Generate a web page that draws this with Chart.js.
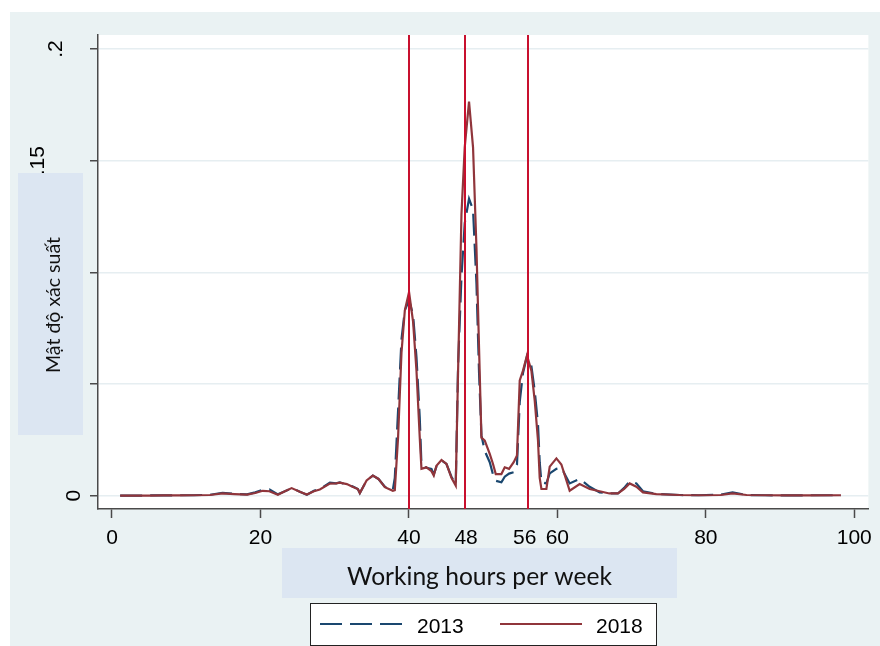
<!DOCTYPE html>
<html>
<head>
<meta charset="utf-8">
<script src="https://cdn.jsdelivr.net/npm/chart.js@4.4.1/dist/chart.umd.min.js"></script>
<style>
html,body{margin:0;padding:0;background:#ffffff;}
#wrap{width:880px;height:646px;position:relative;}
canvas{display:block;}
</style>
</head>
<body>
<div id="wrap"><canvas id="c" width="880" height="646"></canvas></div>
<script>
// ---- data ----
const hours = [1.1,3,5,7,9,11,13.2,14.9,16.5,18.2,19.3,20.3,21.2,22.35,23.3,24.2,25.3,26.25,27.2,28.0,29.35,30.2,30.7,31.64,32.4,33.12,33.39,34.3,35.14,35.9,36.76,37.83,38.1,38.54,39.0,39.45,40.02,40.56,41.02,41.46,41.69,42.37,43.04,43.35,43.71,44.39,45.06,45.73,46.31,46.62,47.08,47.52,48.1,48.64,49.1,49.45,49.77,50.22,50.89,51.33,51.7,52.46,52.91,53.49,54.12,54.56,54.93,55.37,55.91,56.5,56.95,57.39,57.62,57.85,58.52,58.97,59.87,60.54,61.66,63.0,64.35,65.7,67.0,68.16,69.0,69.74,70.64,71.53,73.33,76.47,79,82,83.6,85.5,88,91,94,98.2];
const density2013 = [0.0000,0.0000,0.0001,0.0001,0.0002,0.0002,0.0004,0.0013,0.0008,0.0006,0.0015,0.0026,0.0028,0.0006,0.0020,0.0034,0.0018,0.0004,0.0022,0.0030,0.0058,0.0055,0.0060,0.0048,0.0042,0.0030,0.0012,0.0068,0.0090,0.0075,0.0040,0.0025,0.0080,0.0380,0.0700,0.0830,0.0876,0.0810,0.0620,0.0350,0.0140,0.0125,0.0120,0.0095,0.0130,0.0158,0.0142,0.0085,0.0050,0.0580,0.0980,0.1220,0.1330,0.1280,0.0950,0.0550,0.0270,0.0200,0.0150,0.0095,0.0067,0.0060,0.0085,0.0099,0.0105,0.0140,0.0420,0.0550,0.0625,0.0580,0.0470,0.0320,0.0150,0.0060,0.0055,0.0100,0.0120,0.0125,0.0055,0.0075,0.0040,0.0015,0.0010,0.0010,0.0035,0.0065,0.0055,0.0020,0.0008,0.0003,0.0002,0.0005,0.0015,0.0003,0.0002,0.0001,0.0002,0.0002];
const density2018 = [0.0000,0.0000,0.0000,0.0001,0.0001,0.0002,0.0003,0.0010,0.0007,0.0005,0.0012,0.0022,0.0020,0.0004,0.0020,0.0034,0.0018,0.0005,0.0020,0.0028,0.0054,0.0055,0.0058,0.0052,0.0040,0.0030,0.0012,0.0068,0.0090,0.0075,0.0038,0.0022,0.0025,0.0260,0.0640,0.0830,0.0912,0.0780,0.0560,0.0260,0.0120,0.0127,0.0110,0.0090,0.0134,0.0160,0.0142,0.0080,0.0045,0.0550,0.1260,0.1560,0.1765,0.1560,0.1110,0.0660,0.0260,0.0247,0.0187,0.0142,0.0097,0.0097,0.0127,0.0120,0.0150,0.0180,0.0516,0.0560,0.0628,0.0560,0.0426,0.0247,0.0080,0.0030,0.0030,0.0130,0.0167,0.0140,0.0022,0.0052,0.0030,0.0020,0.0010,0.0010,0.0030,0.0055,0.0040,0.0015,0.0007,0.0003,0.0002,0.0003,0.0010,0.0003,0.0002,0.0001,0.0001,0.0002];
const seriesNames = ['2013', '2018'];
const xTickValues = [0, 20, 40, 47.7, 55.6, 60, 80, 100];
const xTickLabels = ['0', '20', '40', '48', '56', '60', '80', '100'];
const xTicksWithoutMark = [47.7, 55.6];
const yTickValues = [0, 0.05, 0.1, 0.15, 0.2];
const yTickLabels = ['0', '.05', '.1', '.15', '.2'];
const refLines = [40, 47.5, 56];
const xTitle = 'Working hours per week';
const yTitle = 'Mật độ xác suất';

// ---- styles ----
const COL2013 = '#1A476F', COL2018 = '#90353B', REFCOL = '#C8102E';
const OUTER_BG = '#EAF2F3', BOX_BG = '#DCE6F2', GRID = '#E6EEF1', AXIS = '#4a4a4a';
const TICK_FONT = '21px "Liberation Sans", Arial, sans-serif';
const TITLE_FAMILY = 'Lato, "Open Sans", "Noto Sans", sans-serif';
const yLabelCenterX = [72.5, 38, 46, 36.5, 54.5];

function fitFont(ctx, text, targetWidth, family) {
  ctx.font = '20px ' + family;
  const w = ctx.measureText(text).width;
  const size = 20 * targetWidth / w;
  return size.toFixed(2) + 'px ' + family;
}

const decor = {
  id: 'decor',
  beforeDraw(chart) {
    const {ctx, chartArea: a} = chart;
    ctx.save();
    ctx.fillStyle = '#ffffff';
    ctx.fillRect(0, 0, chart.width, chart.height);
    ctx.fillStyle = OUTER_BG;
    ctx.fillRect(10, 12, chart.width - 10, chart.height - 12);
    ctx.fillStyle = '#ffffff';
    ctx.fillRect(a.left, a.top, a.right - a.left, a.bottom - a.top);
    ctx.restore();
  },
  afterDatasetsDraw(chart) {
    const {ctx, chartArea: a, scales: {x}} = chart;
    ctx.save();
    ctx.strokeStyle = REFCOL;
    ctx.lineWidth = 2;
    refLines.forEach(v => {
      const px = Math.round(x.getPixelForValue(v));
      ctx.beginPath();
      ctx.moveTo(px, a.top);
      ctx.lineTo(px, a.bottom);
      ctx.stroke();
    });
    ctx.restore();
  },
  afterDraw(chart) {
    const {ctx, scales: {y}} = chart;
    ctx.save();
    // rotated y tick labels
    ctx.font = TICK_FONT;
    ctx.fillStyle = '#000';
    ctx.textAlign = 'center';
    ctx.textBaseline = 'alphabetic';
    yTickValues.forEach((v, i) => {
      const py = y.getPixelForValue(v);
      ctx.save();
      ctx.translate(yLabelCenterX[i] + 7.5, py);
      ctx.rotate(-Math.PI / 2);
      ctx.fillText(yTickLabels[i], 0, 0);
      ctx.restore();
    });
    // y title box
    ctx.fillStyle = BOX_BG;
    ctx.fillRect(18, 173, 65, 262);
    ctx.fillStyle = '#111';
    ctx.font = fitFont(ctx, yTitle, 136, TITLE_FAMILY);
    ctx.save();
    ctx.translate(60, 305);
    ctx.rotate(-Math.PI / 2);
    ctx.textAlign = 'center';
    ctx.fillText(yTitle, 0, 0);
    ctx.restore();
    // x title box
    ctx.fillStyle = BOX_BG;
    ctx.fillRect(282, 548, 395, 50);
    ctx.fillStyle = '#111';
    ctx.font = fitFont(ctx, xTitle, 265, TITLE_FAMILY);
    ctx.textAlign = 'center';
    ctx.fillText(xTitle, 479.5, 585);
    // legend
    ctx.fillStyle = '#ffffff';
    ctx.fillRect(310, 603, 347, 43);
    ctx.strokeStyle = '#222';
    ctx.lineWidth = 1;
    ctx.strokeRect(310.5, 603.5, 346, 42);
    const ds = chart.data.datasets;
    const items = [{x0: 320, x1: 402, tx: 417}, {x0: 500, x1: 582, tx: 596}];
    items.forEach((it, i) => {
      ctx.beginPath();
      ctx.strokeStyle = ds[i].borderColor;
      ctx.lineWidth = ds[i].borderWidth;
      ctx.setLineDash(ds[i].borderDash || []);
      ctx.moveTo(it.x0, 624);
      ctx.lineTo(it.x1, 624);
      ctx.stroke();
      ctx.setLineDash([]);
      ctx.fillStyle = '#000';
      ctx.font = TICK_FONT;
      ctx.textAlign = 'left';
      ctx.fillText(seriesNames[i], it.tx, 632.5);
    });
    ctx.restore();
  }
};

new Chart(document.getElementById('c'), {
  type: 'line',
  data: {
    datasets: [
      {
        label: seriesNames[0],
        data: hours.map((h, i) => ({x: h, y: density2013[i]})),
        borderColor: COL2013,
        borderWidth: 2.2,
        borderDash: [22, 8],
        pointRadius: 0,
        fill: false,
        tension: 0,
        order: 1
      },
      {
        label: seriesNames[1],
        data: hours.map((h, i) => ({x: h, y: density2018[i]})),
        borderColor: COL2018,
        borderWidth: 2.2,
        pointRadius: 0,
        fill: false,
        tension: 0,
        order: 0
      }
    ]
  },
  options: {
    responsive: false,
    animation: false,
    devicePixelRatio: 1,
    layout: {padding: {left: 0, right: 11, top: 35, bottom: 0}},
    plugins: {legend: {display: false}, tooltip: {enabled: false}},
    scales: {
      x: {
        type: 'linear',
        min: -1.885,
        max: 101.9,
        afterBuildTicks: s => { s.ticks = xTickValues.map(v => ({value: v})); },
        afterFit: s => { s.height = 137; },
        ticks: {
          autoSkip: false,
          maxRotation: 0,
          minRotation: 0,
          padding: 8,
          color: '#000',
          font: {family: '"Liberation Sans", Arial, sans-serif', size: 21},
          callback: v => xTickLabels[xTickValues.indexOf(v)]
        },
        grid: {
          drawOnChartArea: false,
          drawTicks: true,
          tickLength: 9,
          tickWidth: 1.5,
          tickColor: c => (c.tick && xTicksWithoutMark.includes(c.tick.value)) ? 'rgba(0,0,0,0)' : AXIS
        },
        border: {display: true, color: AXIS, width: 1.5}
      },
      y: {
        type: 'linear',
        min: -0.00596,
        max: 0.2063,
        afterBuildTicks: s => { s.ticks = yTickValues.map(v => ({value: v})); },
        afterFit: s => { s.width = 98; },
        ticks: {display: false},
        grid: {
          color: GRID,
          lineWidth: 1.5,
          drawTicks: true,
          tickLength: 8,
          tickWidth: 1.5,
          tickColor: AXIS
        },
        border: {display: true, color: AXIS, width: 1.5}
      }
    }
  },
  plugins: [decor]
});
</script>
</body>
</html>
